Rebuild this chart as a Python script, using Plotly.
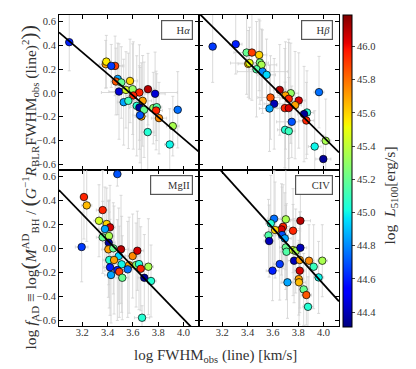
import numpy as np
import plotly.graph_objects as go
from plotly.subplots import make_subplots

# ---- data (log FWHM, log f_AD, errors, log L5100) ----
ha_x = [3.097, 3.385, 3.39, 3.459, 3.429, 3.48, 3.466, 3.577, 3.508, 3.49, 3.545, 3.598, 3.651, 3.719, 3.775, 3.603,
        3.677, 3.527, 3.564, 3.63, 3.651, 3.688, 3.761, 3.788, 3.783, 3.667, 3.656, 3.806, 3.954, 3.915, 3.717, 3.891]
ha_y = [0.425, 0.24, 0.262, 0.226, 0.226, 0.117, 0.095, 0.10, 0.087, 0.011, 0.025, 0.031, 0.003, 0.031, -0.008, -0.022,
        -0.067, -0.078, -0.067, -0.109, -0.123, -0.142, -0.128, -0.12, -0.148, -0.198, -0.187, -0.212, -0.142, -0.279, -0.329, -0.433]
ha_xerr = [0.03, 0.05, 0.04, 0.06, 0.1, 0.05, 0.04, 0.06, 0.05, 0.08, 0.05, 0.06, 0.3, 0.05, 0.08, 0.06,
           0.07, 0.05, 0.06, 0.05, 0.08, 0.06, 0.05, 0.04, 0.05, 0.05, 0.06, 0.06, 0.03, 0.05, 0.05, 0.04]
ha_yerr = [0.24, 0.2, 0.22, 0.25, 0.18, 0.3, 0.28, 0.35, 0.3, 0.4, 0.32, 0.38, 0.4, 0.3, 0.35, 0.45,
           0.38, 0.36, 0.4, 0.42, 0.35, 0.4, 0.3, 0.28, 0.33, 0.45, 0.4, 0.3, 0.32, 0.25, 0.35, 0.3]
ha_L = [44.6, 45.7, 45.55, 45.9, 44.65, 44.85, 45.85, 45.6, 45.2, 44.45, 45.45, 45.3, 45.95, 46.1, 44.45, 45.95,
        45.7, 44.85, 45.1, 45.05, 44.35, 45.2, 45.3, 45.15, 45.95, 45.7, 44.7, 45.75, 44.75, 45.35, 45.05, 45.0]

hb_x = [3.124, 3.306, 3.392, 3.434, 3.491, 3.405, 3.415, 3.497, 3.51, 3.47, 3.518, 3.55, 3.654, 3.741, 3.699, 3.725, 3.581,
        3.804, 3.61, 3.775, 3.573, 3.694, 3.725, 3.964, 3.869, 3.846, 3.864, 3.749, 3.696, 3.725, 4.017, 3.93, 3.998]
hb_y = [0.388, 0.408, 0.338, 0.338, 0.318, 0.243, 0.25, 0.254, 0.235, 0.198, 0.178, 0.151, 0.025, -0.003, -0.022, -0.05, -0.039,
        -0.064, -0.092, -0.103, -0.131, -0.128, -0.128, 0.006, -0.165, -0.178, -0.232, -0.243, -0.31, -0.321, -0.402, -0.45, -0.555]
hb_xerr = [0.03, 0.05, 0.1, 0.05, 0.06, 0.08, 0.15, 0.05, 0.12, 0.06, 0.2, 0.07, 0.05, 0.06, 0.06, 0.07, 0.1,
           0.05, 0.08, 0.05, 0.08, 0.06, 0.06, 0.04, 0.05, 0.05, 0.06, 0.12, 0.06, 0.05, 0.04, 0.05, 0.06]
hb_yerr = [0.3, 0.25, 0.35, 0.4, 0.3, 0.28, 0.3, 0.35, 0.3, 0.4, 0.35, 0.3, 0.38, 0.42, 0.45, 0.5, 0.35,
           0.4, 0.38, 0.45, 0.36, 0.5, 0.55, 0.3, 0.35, 0.4, 0.32, 0.3, 0.4, 0.45, 0.35, 0.3, 0.2]
hb_L = [44.65, 44.6, 45.2, 45.9, 45.6, 45.65, 45.5, 45.25, 45.35, 45.15, 44.8, 44.95, 46.1, 45.3, 45.7, 45.95, 45.85,
        46.05, 44.4, 45.7, 44.85, 45.95, 46.05, 44.75, 45.05, 44.35, 45.95, 44.7, 45.05, 45.1, 45.35, 45.0, 44.35]

mg_x = [3.477, 3.213, 3.235, 3.361, 3.332, 3.393, 3.419, 3.379, 3.361, 3.411, 3.409, 3.195, 3.406, 3.445, 3.506, 3.488, 3.598,
        3.635, 3.413, 3.451, 3.511, 3.625, 3.648, 3.722, 3.57, 3.419, 3.477, 3.492, 3.559, 3.662, 3.516, 3.427, 3.69, 3.743, 3.672]
mg_y = [0.619, 0.428, 0.358, 0.319, 0.23, 0.203, 0.175, 0.161, 0.092, 0.103, 0.047, 0.011, -0.008, 0.0, -0.008, -0.064, -0.064,
        -0.02, -0.097, -0.097, -0.133, -0.139, -0.131, -0.153, -0.14, -0.158, -0.181, -0.195, -0.175, -0.17, -0.245, -0.222, -0.245, -0.272, -0.578]
mg_xerr = [0.03, 0.03, 0.04, 0.05, 0.04, 0.05, 0.04, 0.05, 0.05, 0.04, 0.05, 0.05, 0.05, 0.04, 0.06, 0.05, 0.06,
           0.05, 0.05, 0.05, 0.06, 0.05, 0.05, 0.04, 0.05, 0.05, 0.05, 0.05, 0.06, 0.05, 0.05, 0.05, 0.05, 0.04, 0.06]
mg_yerr = [0.1, 0.35, 0.3, 0.33, 0.3, 0.3, 0.35, 0.35, 0.3, 0.3, 0.35, 0.29, 0.4, 0.38, 0.45, 0.4, 0.35,
           0.33, 0.4, 0.45, 0.4, 0.35, 0.38, 0.4, 0.4, 0.4, 0.42, 0.38, 0.4, 0.35, 0.35, 0.4, 0.36, 0.3, 0.1]
mg_L = [44.7, 45.95, 45.65, 45.95, 45.45, 45.6, 46.05, 44.85, 45.2, 45.35, 44.35, 44.65, 45.7, 45.2, 46.1, 44.95, 45.75,
        46.05, 45.05, 45.7, 45.0, 45.3, 45.05, 45.35, 45.7, 44.6, 44.6, 45.9, 44.75, 45.95, 45.2, 44.85, 44.35, 45.05, 45.05]

civ_x = [3.609, 3.702, 3.817, 3.583, 3.68, 3.668, 3.617, 3.759, 3.565, 3.672, 3.694, 3.57, 3.702, 3.707, 3.759, 3.78,
         3.817, 3.767, 3.812, 3.885, 3.99, 3.922, 3.654, 3.597, 3.812, 3.961, 3.804, 3.806, 3.715, 3.843, 3.864, 3.877]
civ_y = [0.247, 0.242, 0.23, 0.208, 0.18, 0.158, 0.153, 0.147, 0.108, 0.111, 0.083, 0.061, 0.008, -0.028, -0.014, -0.022,
         0.005, -0.103, -0.097, -0.103, -0.103, -0.153, -0.131, -0.186, -0.186, -0.242, -0.256, -0.283, -0.283, -0.342, -0.389, -0.487]
civ_xerr = [0.05, 0.06, 0.08, 0.04, 0.05, 0.05, 0.05, 0.06, 0.04, 0.05, 0.05, 0.04, 0.05, 0.05, 0.05, 0.04,
            0.05, 0.05, 0.05, 0.04, 0.04, 0.04, 0.05, 0.05, 0.04, 0.04, 0.04, 0.05, 0.05, 0.04, 0.04, 0.04]
civ_yerr = [0.4, 0.42, 0.3, 0.4, 0.35, 0.38, 0.4, 0.35, 0.3, 0.4, 0.38, 0.3, 0.35, 0.4, 0.38, 0.35,
            0.3, 0.35, 0.4, 0.3, 0.3, 0.35, 0.3, 0.25, 0.35, 0.3, 0.3, 0.35, 0.3, 0.3, 0.25, 0.25]
civ_L = [44.75, 45.35, 46.1, 45.05, 45.95, 46.05, 45.6, 45.95, 45.15, 44.7, 44.85, 44.4, 45.2, 45.15, 45.45, 45.35,
         44.4, 44.4, 45.7, 45.75, 45.35, 45.1, 44.65, 44.6, 46.05, 45.0, 45.7, 45.65, 44.85, 45.2, 45.85, 45.05]

# best-fit lines: value at log FWHM = 3.6 and slope
fit_at36 = [-0.022, 0.051, -0.152, 0.168]
fit_slope = [-0.907, -1.055, -1.093, -1.168]

line_names = ["H<i>α</i>", "H<i>β</i>", "MgII", "CIV"]
cbar_ticks = [44.4, 44.6, 44.8, 45.0, 45.2, 45.4, 45.6, 45.8, 46.0]
x_ticks = [3.2, 3.4, 3.6, 3.8, 4.0]
y_ticks = [-0.6, -0.4, -0.2, 0.0, 0.2, 0.4, 0.6]

W, H = 416, 369
OFF = 8  # page body margin of the html export
FONT = "Liberation Serif"
XR = [3.016, 4.122]
YR = [-0.647, 0.653]


def px(X):
    return (X - OFF) / W


def py(Y):
    return 1 - (Y - OFF) / H


def jet_colorscale():
    # matplotlib 'jet' segment data
    r = ([0, 0.35, 0.66, 0.89, 1], [0, 0, 1, 1, 0.5])
    g = ([0, 0.125, 0.375, 0.64, 0.91, 1], [0, 0, 1, 1, 0, 0])
    b = ([0, 0.11, 0.34, 0.65, 1], [0.5, 1, 1, 0, 0])
    stops = sorted(set(r[0] + g[0] + b[0]))
    out = []
    for s in stops:
        c = [int(round(255 * np.interp(s, *ch))) for ch in (r, g, b)]
        out.append([s, f"rgb({c[0]},{c[1]},{c[2]})"])
    return out


fig = make_subplots(rows=2, cols=2, horizontal_spacing=0, vertical_spacing=0)

panels = [
    (1, 1, ha_x, ha_y, ha_xerr, ha_yerr, ha_L),
    (1, 2, hb_x, hb_y, hb_xerr, hb_yerr, hb_L),
    (2, 1, mg_x, mg_y, mg_xerr, mg_yerr, mg_L),
    (2, 2, civ_x, civ_y, civ_xerr, civ_yerr, civ_L),
]

err_style = dict(type="data", color="#d0d0d0", thickness=0.8, width=1.5)
for i, (r, c, x, y, xe, ye, L) in enumerate(panels):
    fig.add_trace(go.Scatter(
        x=x, y=y, mode="markers", showlegend=False,
        error_x=dict(array=xe, **err_style), error_y=dict(array=ye, **err_style),
        marker=dict(size=7.5, color=L, coloraxis="coloraxis", line=dict(color="black", width=0.7)),
        cliponaxis=False,
    ), row=r, col=c)
    xs = np.array(XR)
    fig.add_trace(go.Scatter(
        x=xs, y=fit_at36[i] + fit_slope[i] * (xs - 3.6), mode="lines", showlegend=False,
        line=dict(color="black", width=1.8),
    ), row=r, col=c)

# panel domains in screen pixels
xdom = [(59, 199), (199, 339)]
ydom = [(15, 170), (170, 326)]
ax_style = dict(showline=True, linecolor="black", linewidth=1, mirror="allticks", ticks="inside",
                ticklen=4, tickcolor="black", showgrid=False, zeroline=False,
                tickfont=dict(family=FONT, size=10.5, color="#333"))
for r in (1, 2):
    for c in (1, 2):
        x0, x1 = xdom[c - 1]
        y0, y1 = ydom[r - 1]
        fig.update_xaxes(domain=[px(x0), px(x1)], range=XR, tickvals=x_ticks, tickformat=".1f",
                         showticklabels=(r == 2), ticklabelstandoff=-4, row=r, col=c, **ax_style)
        fig.update_yaxes(domain=[py(y1), py(y0)], range=YR, tickvals=y_ticks, tickformat=".1f",
                         showticklabels=(c == 1), row=r, col=c, **ax_style)

# panel labels (legend-like boxes)
box_w = [26, 26, 37, 32]
for i, name in enumerate(line_names):
    ax = i + 1
    fig.add_annotation(
        text=name, xref=f"x{'' if ax == 1 else ax} domain", yref=f"y{'' if ax == 1 else ax} domain",
        x=0.96, y=0.965, xanchor="right", yanchor="top", showarrow=False, align="right",
        width=box_w[i], height=14, borderpad=2, bordercolor="#555", borderwidth=1.2, bgcolor="white",
        font=dict(family=FONT, size=10.5, color="#333"),
    )

fig.add_annotation(
    text="log FWHM<sub>obs</sub> (line) [km/s]", xref="paper", yref="paper",
    x=px(215), y=py(356), yanchor="middle", showarrow=False, font=dict(family=FONT, size=15, color="#333"),
)
fig.add_annotation(
    text="log <i>f</i><sub>AD</sub> ≡ log<span style='font-size:22px'>(</span><i>M</i><sup>AD</sup><sub>BH</sub> / "
         "<span style='font-size:22px'>(</span><i>G</i><sup>−1</sup><i>R</i><sub>BLR</sub>FWHM<sub>obs</sub>"
         " (line)<sup>2</sup><span style='font-size:22px'>))</span>",
    xref="paper", yref="paper", x=px(13), y=py(187), textangle=-90, showarrow=False,
    font=dict(family=FONT, size=15.5, color="#333"),
)
fig.add_annotation(
    text="log  <i>L</i><sub>5100</sub>[erg/s]", xref="paper", yref="paper",
    x=px(401), y=py(196), textangle=-90, showarrow=False,
    font=dict(family=FONT, size=15.5, color="#333"),
)

fig.update_layout(
    width=W, height=H, margin=dict(l=0, r=0, t=0, b=0),
    paper_bgcolor="white", plot_bgcolor="white",
    coloraxis=dict(
        colorscale=jet_colorscale(), cmin=44.31, cmax=46.19,
        colorbar=dict(
            x=px(343), xanchor="left", y=py(15), yanchor="top", len=312 / H, lenmode="fraction",
            thickness=9, thicknessmode="pixels", outlinecolor="black", outlinewidth=1,
            tickvals=cbar_ticks, tickformat=".1f", ticks="outside", ticklen=3, xpad=0, ypad=0,
            tickfont=dict(family=FONT, size=10.5, color="#333"),
        ),
    ),
)

fig.write_html("out.html")
